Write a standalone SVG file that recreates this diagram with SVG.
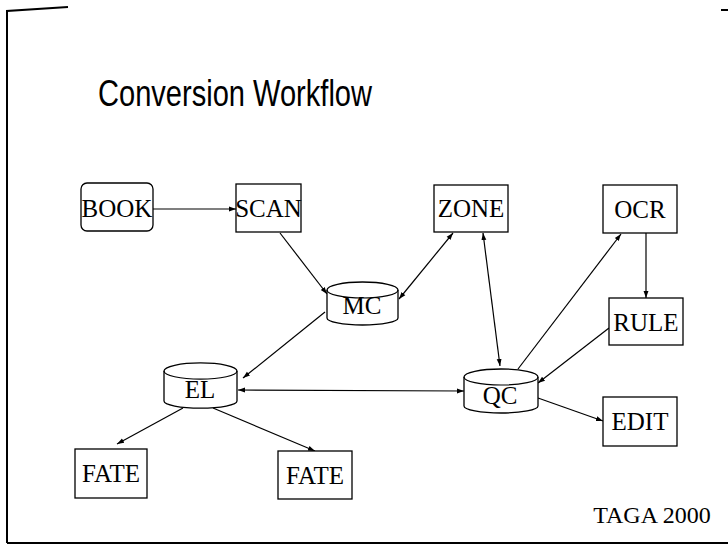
<svg xmlns="http://www.w3.org/2000/svg" width="728" height="548" viewBox="0 0 728 548">
<defs>
<marker id="ah" viewBox="0 0 10 10" refX="10" refY="5" markerWidth="7" markerHeight="7" orient="auto-start-reverse" markerUnits="userSpaceOnUse">
<path d="M0,1.5 L10,5 L0,8.5 Z" fill="#000"/>
</marker>
<style>
.box{fill:#fff;stroke:#000;stroke-width:1.3}
.lbl{font-family:"Liberation Serif","Times New Roman",serif;font-size:25px;fill:#000;text-anchor:middle}
.ln{stroke:#000;stroke-width:1.2;fill:none}
.frame{stroke:#000;stroke-width:2;fill:none}
</style>
</defs>
<rect width="728" height="548" fill="#fff"/>
<g id="frame">
<path class="frame" d="M7,543 L7,11 L68,7"/>
<path class="frame" d="M7,543 L728,543"/>
<path class="frame" d="M721,10 L728,10"/>
</g>
<text x="98" y="106" font-family="'Liberation Sans',Arial,sans-serif" font-size="37" textLength="274" lengthAdjust="spacingAndGlyphs">Conversion Workflow</text>
<g id="connectors">
<line class="ln" x1="153" y1="209" x2="236" y2="209" marker-end="url(#ah)"/>
<line class="ln" x1="280" y1="233" x2="327" y2="294" marker-end="url(#ah)"/>
<line class="ln" x1="399" y1="299" x2="453" y2="233" marker-start="url(#ah)" marker-end="url(#ah)"/>
<line class="ln" x1="325" y1="312" x2="243" y2="378" marker-end="url(#ah)"/>
<line class="ln" x1="483" y1="233" x2="500" y2="366" marker-start="url(#ah)" marker-end="url(#ah)"/>
<line class="ln" x1="518" y1="369" x2="621" y2="234" marker-end="url(#ah)"/>
<line class="ln" x1="646" y1="233" x2="646" y2="298" marker-end="url(#ah)"/>
<line class="ln" x1="609" y1="328" x2="538" y2="383" marker-end="url(#ah)"/>
<line class="ln" x1="238" y1="390" x2="464" y2="391" marker-start="url(#ah)" marker-end="url(#ah)"/>
<line class="ln" x1="538" y1="398" x2="603" y2="421" marker-end="url(#ah)"/>
<line class="ln" x1="183" y1="408" x2="117" y2="444" marker-end="url(#ah)"/>
<line class="ln" x1="213" y1="408" x2="315" y2="451" marker-end="url(#ah)"/>
</g>
<g id="BOOK"><rect class="box" x="81" y="183" width="72" height="48" rx="6"/><text class="lbl" x="117" y="217">BOOK</text></g>
<g id="SCAN"><rect class="box" x="236" y="184" width="65" height="48"/><text class="lbl" x="268.5" y="217">SCAN</text></g>
<g id="ZONE"><rect class="box" x="434" y="185" width="74" height="47"/><text class="lbl" x="471" y="217">ZONE</text></g>
<g id="OCR"><rect class="box" x="603" y="185" width="74" height="48"/><text class="lbl" x="640" y="218">OCR</text></g>
<g id="MC"><path class="box" d="M327,290 A35.5,8 0 0 1 398,290 L398,318 A35.5,7 0 0 1 327,318 Z"/><path class="ln" d="M327,290 A35.5,8 0 0 0 398,290"/><text class="lbl" x="362" y="314">MC</text></g>
<g id="RULE"><rect class="box" x="609" y="298" width="74" height="47"/><text class="lbl" x="646" y="331">RULE</text></g>
<g id="EL"><path class="box" d="M164,371 A36,8 0 0 1 237,371 L237,401 A36,7 0 0 1 164,401 Z"/><path class="ln" d="M164,371 A36,8 0 0 0 237,371"/><text class="lbl" x="200" y="398">EL</text></g>
<g id="QC"><path class="box" d="M464,377 A37,8 0 0 1 538,377 L538,406 A37,7 0 0 1 464,406 Z"/><path class="ln" d="M464,377 A37,8 0 0 0 538,377"/><text class="lbl" x="500" y="404">QC</text></g>
<g id="EDIT"><rect class="box" x="603" y="397" width="74" height="49"/><text class="lbl" x="640" y="430">EDIT</text></g>
<g id="FATE1"><rect class="box" x="75" y="449" width="72" height="49"/><text class="lbl" x="111" y="482">FATE</text></g>
<g id="FATE2"><rect class="box" x="278" y="451" width="74" height="48"/><text class="lbl" x="315" y="484">FATE</text></g>
<text class="lbl" x="652" y="523" style="font-size:24px">TAGA 2000</text>
</svg>
